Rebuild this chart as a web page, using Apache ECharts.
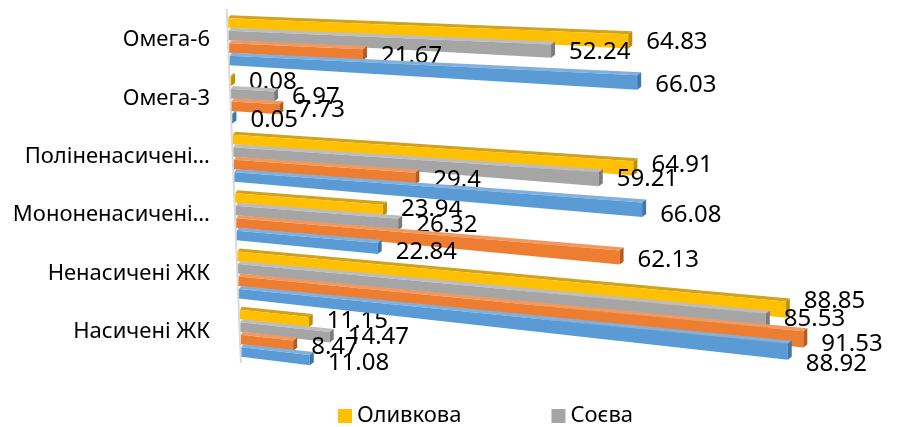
<!DOCTYPE html>
<html><head><meta charset="utf-8">
<script src="https://cdn.jsdelivr.net/npm/echarts@6/dist/echarts.min.js"></script>
<style>html,body{margin:0;padding:0;background:#fff}#c{width:900px;height:427px}</style>
</head><body><div id="c"></div>
<script>
const categories = ['Омега-6','Омега-3','Поліненасичені…','Мононенасичені…','Ненасичені ЖК','Насичені ЖК'];
const olive   = [64.83, 0.08, 64.91, 23.94, 88.85, 11.15];
const soy     = [52.24, 6.97, 59.21, 26.32, 85.53, 14.47];
const series3 = [21.67, 7.73, 29.4, 62.13, 91.53, 8.47];
const series4 = [66.03, 0.05, 66.08, 22.84, 88.92, 11.08];
const seriesNames = ['Оливкова','Соєва','Ряд 3','Ряд 4'];
const legendNames = ['Оливкова','Соєва'];

// [front, top face, end cap]
const palette = [
  ['#FFC000','#D1A21E','#BF9000'],
  ['#A5A5A5','#BDBDBD','#7B7B7B'],
  ['#ED7D31','#F29A5E','#B45B20'],
  ['#5B9BD5','#7FB0DE','#3F77AB']
];
const font = '"Noto Sans",sans-serif';
const BAR_H = 12.5, TOP_D = 3, CAP_W = 4;

// emulation of the Excel 3-D perspective
const xShift = y => (y - 15) * 0.04;            // left edge drifts right going down
const tilt = y => 0.040 + (y - 15) * 0.00022;    // bars fall to the right, more at the bottom

function renderFor(si){
  return function(params, api){
    const cat = api.value(0), val = api.value(1);
    const p0 = api.coord([0, cat]);
    const p1 = api.coord([val, cat]);
    const yc = p0[1] + (si - 1.5) * BAR_H;
    const top = yc - BAR_H / 2, bot = yc + BAR_H / 2;
    const sh = xShift(yc);
    const x0 = p0[0] + sh, x1 = p1[0] + sh;
    const dx = x1 - x0;
    const kT = tilt(top), kB = kT + 0.012;
    const tT = top + dx * kT, fT = top + TOP_D + dx * kT, bB = bot + dx * kB;
    const c = palette[si];
    const midEnd = (fT + bB) / 2;
    const lblY = midEnd + (si - 1.5) * dx * (yc - 15) * 0.00005 + 1;
    return {
      type:'group',
      children:[
        {type:'polygon', shape:{points:[[x0+2,top],[x1+CAP_W,tT],[x1,fT],[x0,top+TOP_D]]}, style:{fill:c[1]}},
        {type:'polygon', shape:{points:[[x0,top+TOP_D],[x1,fT],[x1,bB],[x0,bot]]}, style:{fill:c[0]}},
        {type:'polygon', shape:{points:[[x1,fT],[x1+CAP_W,tT],[x1+CAP_W,bB-TOP_D],[x1,bB]]}, style:{fill:c[2]}},
        {type:'text', style:{x:x1+CAP_W+14, y:lblY, text:String(val), fill:'#000',
          font:'24px "Noto Sans", sans-serif', verticalAlign:'middle', align:'left'}}
      ]
    };
  };
}
function mk(name, data, i){
  return {
    name, type:'custom', data: data.map((v, k) => [k, v]),
    encode:{x:1, y:0}, clip:false,
    itemStyle:{color: palette[i][0]},
    renderItem: renderFor(i)
  };
}
const axisSeries = {
  name:'axis', type:'custom', data:[[0,0]], encode:{x:1, y:0}, silent:true, clip:false, z:1,
  renderItem: function(params){
    const cs = params.coordSys;
    const yT = cs.y - 2, yB = cs.y + cs.height + 2;
    return {type:'line', shape:{x1:cs.x - 1 + xShift(yT), y1:yT, x2:cs.x - 1 + xShift(yB), y2:yB},
      style:{stroke:'#D9D9D9', lineWidth:2}};
  }
};
const chart = echarts.init(document.getElementById('c'));
chart.setOption({
  animation:false,
  grid:{left:228, right:55, top:11, bottom:66},
  legend:{data:legendNames, top:400, left:333, itemGap:90, itemWidth:14, itemHeight:14, icon:'rect',
    textStyle:{fontSize:22, fontFamily:font, color:'#000'}},
  xAxis:{type:'value', min:0, max:100, show:false},
  yAxis:{type:'category', data:categories, inverse:true,
    axisLine:{show:false}, axisTick:{show:false},
    axisLabel:{fontSize:22, fontFamily:font, color:'#000', margin:18}},
  series:[axisSeries, mk(seriesNames[0],olive,0), mk(seriesNames[1],soy,1), mk(seriesNames[2],series3,2), mk(seriesNames[3],series4,3)]
});
</script></body></html>
